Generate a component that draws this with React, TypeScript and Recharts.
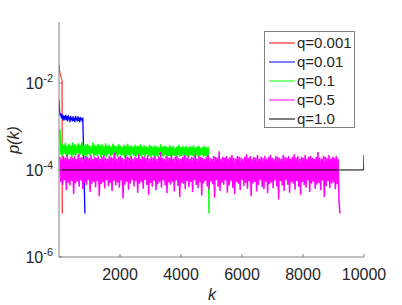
import { LineChart, Line, XAxis, YAxis, Legend, Label } from 'recharts';

const seriesNames = ['q=0.001', 'q=0.01', 'q=0.1', 'q=0.5', 'q=1.0'];
const COLORS = ['#ff0000', '#0000ff', '#00ff00', '#ff00ff', '#000000'];
// the noisy series are drawn a bit thicker so the dense band fills in
const WIDTHS = [1, 1.3, 1.5, 1.5, 1];

const xTicks = [2000, 4000, 6000, 8000, 10000];
const yTicks = [1e-6, 1e-4, 1e-2];

// q=0.001
const redK = [1, 10, 20, 30, 40, 50, 60, 70, 80, 90, 100, 106];
const redP = [0.026, 0.021, 0.019, 0.017, 0.0165, 0.015, 0.014, 0.0135, 0.0125, 0.012, 0.0115, 1e-5];

// q=0.01
const blueK = [1, 20, 40, 60, 80, 100, 120, 140, 160, 180, 200, 220, 240, 260, 280, 300, 320, 340, 360, 380,
    400, 420, 440, 460, 480, 500, 520, 540, 560, 580, 600, 620, 640, 660, 680, 700, 720, 740, 760, 780, 850];
const blueP = [4.1e-3, 2.1e-3, 1.8e-3, 2.0e-3, 1.55e-3, 1.9e-3, 1.45e-3, 1.8e-3, 1.35e-3, 1.75e-3,
    1.45e-3, 1.85e-3, 1.4e-3, 1.7e-3, 1.3e-3, 1.8e-3, 1.45e-3, 1.65e-3, 1.25e-3, 1.75e-3,
    1.4e-3, 1.6e-3, 1.3e-3, 1.7e-3, 1.35e-3, 1.55e-3, 1.25e-3, 1.75e-3, 1.4e-3, 1.6e-3,
    1.3e-3, 1.7e-3, 1.35e-3, 1.6e-3, 1.25e-3, 1.65e-3, 1.4e-3, 1.55e-3, 1.3e-3, 1.6e-3, 1e-5];

// q=0.1, sampled every 30 steps of k
const greenStep = 30;
const greenP = [
    8.5e-4, 2.3e-4, 4.1e-4, 2.1e-4, 3.8e-4, 2.4e-4, 4.2e-4, 2.0e-4, 3.6e-4, 2.2e-4, 4.0e-4, 2.3e-4, 3.7e-4, 1.9e-4, 4.3e-4, 2.2e-4, 3.9e-4, 2.1e-4, 3.6e-4, 2.4e-4,
    4.1e-4, 2.0e-4, 3.8e-4, 2.3e-4, 4.4e-4, 2.1e-4, 3.6e-4, 2.2e-4, 3.9e-4, 1.9e-4, 4.0e-4, 2.3e-4, 3.7e-4, 2.1e-4, 3.5e-4, 2.4e-4, 4.2e-4, 2.0e-4, 3.8e-4, 2.2e-4,
    3.6e-4, 2.1e-4, 4.0e-4, 2.3e-4, 3.7e-4, 1.9e-4, 3.9e-4, 2.2e-4, 3.5e-4, 2.1e-4, 4.1e-4, 2.0e-4, 3.6e-4, 2.3e-4, 3.8e-4, 2.1e-4, 3.4e-4, 2.2e-4, 4.0e-4, 1.9e-4,
    3.7e-4, 2.2e-4, 3.5e-4, 2.0e-4, 3.9e-4, 2.3e-4, 3.6e-4, 2.1e-4, 3.4e-4, 2.2e-4, 3.8e-4, 1.9e-4, 3.6e-4, 2.1e-4, 4.0e-4, 2.2e-4, 3.5e-4, 2.0e-4, 3.7e-4, 2.3e-4,
    3.4e-4, 2.1e-4, 3.8e-4, 2.0e-4, 3.5e-4, 2.2e-4, 3.6e-4, 1.9e-4, 3.9e-4, 2.1e-4, 3.4e-4, 2.2e-4, 3.7e-4, 2.0e-4, 3.5e-4, 2.3e-4, 3.3e-4, 2.1e-4, 3.8e-4, 2.0e-4,
    3.6e-4, 2.2e-4, 3.4e-4, 1.9e-4, 3.7e-4, 2.1e-4, 3.5e-4, 2.0e-4, 3.3e-4, 2.2e-4, 3.9e-4, 2.1e-4, 3.4e-4, 2.0e-4, 3.6e-4, 2.2e-4, 3.5e-4, 1.9e-4, 3.3e-4, 2.1e-4,
    3.7e-4, 2.0e-4, 3.4e-4, 2.2e-4, 3.6e-4, 2.1e-4, 3.2e-4, 1.9e-4, 3.5e-4, 2.2e-4, 3.8e-4, 2.0e-4, 3.3e-4, 2.1e-4, 3.5e-4, 2.2e-4, 3.4e-4, 1.9e-4, 3.6e-4, 2.1e-4,
    3.3e-4, 2.0e-4, 3.5e-4, 2.2e-4, 3.4e-4, 2.1e-4, 3.7e-4, 1.9e-4, 3.3e-4, 2.2e-4, 3.5e-4, 2.0e-4, 3.6e-4, 2.1e-4, 3.2e-4, 2.2e-4, 3.4e-4, 2.0e-4, 3.5e-4, 2.1e-4,
    3.3e-4, 2.0e-4, 3.4e-4, 1e-5
];

// q=0.5, sampled every 30 steps of k
const magentaStep = 30;
const magentaP = [
    20e-5, 5.2e-5, 18e-5, 4.6e-5, 21e-5, 5.8e-5, 19e-5, 3.4e-5, 22e-5, 5.1e-5, 18e-5, 4.4e-5, 20e-5, 5.6e-5, 19e-5, 2.8e-5, 21e-5, 4.9e-5, 18e-5, 5.4e-5,
    23e-5, 4.1e-5, 19e-5, 5.7e-5, 20e-5, 3.6e-5, 18e-5, 5.0e-5, 21e-5, 4.5e-5, 20e-5, 5.9e-5, 19e-5, 3.1e-5, 22e-5, 4.8e-5, 18e-5, 5.3e-5, 20e-5, 4.0e-5,
    19e-5, 5.5e-5, 21e-5, 2.5e-5, 18e-5, 4.7e-5, 20e-5, 5.2e-5, 22e-5, 3.8e-5, 19e-5, 5.8e-5, 18e-5, 4.3e-5, 21e-5, 5.0e-5, 20e-5, 3.3e-5, 19e-5, 5.6e-5,
    25e-5, 4.4e-5, 18e-5, 5.1e-5, 20e-5, 3.9e-5, 21e-5, 5.7e-5, 19e-5, 2.2e-5, 18e-5, 4.6e-5, 22e-5, 5.4e-5, 20e-5, 3.5e-5, 19e-5, 4.9e-5, 21e-5, 5.8e-5,
    18e-5, 4.2e-5, 20e-5, 5.5e-5, 19e-5, 3.0e-5, 23e-5, 4.8e-5, 18e-5, 5.3e-5, 21e-5, 3.7e-5, 20e-5, 5.9e-5, 19e-5, 4.5e-5, 22e-5, 2.7e-5, 18e-5, 5.0e-5,
    20e-5, 4.1e-5, 19e-5, 5.6e-5, 21e-5, 3.4e-5, 18e-5, 4.7e-5, 20e-5, 5.2e-5, 26e-5, 3.9e-5, 19e-5, 5.8e-5, 18e-5, 4.4e-5, 21e-5, 2.9e-5, 20e-5, 5.1e-5,
    19e-5, 4.6e-5, 22e-5, 5.4e-5, 18e-5, 3.2e-5, 20e-5, 5.7e-5, 21e-5, 4.3e-5, 19e-5, 2.4e-5, 18e-5, 5.0e-5, 20e-5, 4.8e-5, 22e-5, 3.6e-5, 19e-5, 5.5e-5,
    21e-5, 4.0e-5, 18e-5, 5.3e-5, 20e-5, 3.1e-5, 19e-5, 5.9e-5, 23e-5, 4.5e-5, 18e-5, 3.8e-5, 21e-5, 5.2e-5, 20e-5, 2.6e-5, 19e-5, 4.9e-5, 18e-5, 5.6e-5,
    20e-5, 4.2e-5, 22e-5, 3.5e-5, 19e-5, 5.4e-5, 18e-5, 4.7e-5, 21e-5, 2.3e-5, 20e-5, 5.8e-5, 19e-5, 4.1e-5, 27e-5, 3.3e-5, 18e-5, 5.1e-5, 20e-5, 4.6e-5,
    19e-5, 5.7e-5, 21e-5, 3.0e-5, 18e-5, 4.4e-5, 20e-5, 5.5e-5, 22e-5, 3.9e-5, 19e-5, 2.8e-5, 18e-5, 5.2e-5, 21e-5, 4.8e-5, 20e-5, 3.4e-5, 19e-5, 5.9e-5,
    18e-5, 4.3e-5, 20e-5, 5.0e-5, 23e-5, 3.7e-5, 19e-5, 5.6e-5, 21e-5, 2.5e-5, 18e-5, 4.9e-5, 20e-5, 5.3e-5, 19e-5, 3.2e-5, 22e-5, 4.5e-5, 18e-5, 5.8e-5,
    20e-5, 4.0e-5, 19e-5, 3.6e-5, 21e-5, 5.4e-5, 18e-5, 2.9e-5, 20e-5, 4.7e-5, 22e-5, 5.1e-5, 19e-5, 3.8e-5, 18e-5, 5.7e-5, 21e-5, 4.2e-5, 20e-5, 2.1e-5,
    19e-5, 5.5e-5, 18e-5, 4.4e-5, 22e-5, 3.3e-5, 20e-5, 5.9e-5, 19e-5, 4.6e-5, 21e-5, 3.0e-5, 18e-5, 5.2e-5, 20e-5, 4.8e-5, 23e-5, 3.5e-5, 19e-5, 5.6e-5,
    21e-5, 4.1e-5, 18e-5, 2.7e-5, 20e-5, 5.3e-5, 19e-5, 4.5e-5, 22e-5, 3.9e-5, 18e-5, 5.8e-5, 20e-5, 3.1e-5, 21e-5, 4.9e-5, 19e-5, 5.4e-5, 18e-5, 3.7e-5,
    20e-5, 4.6e-5, 26e-5, 5.0e-5, 19e-5, 3.4e-5, 18e-5, 5.7e-5, 21e-5, 2.4e-5, 20e-5, 4.3e-5, 19e-5, 5.5e-5, 22e-5, 3.8e-5, 18e-5, 4.9e-5, 20e-5, 5.2e-5,
    19e-5, 3.6e-5, 21e-5, 4.7e-5, 18e-5, 2.0e-5, 1e-5
];

// q=1.0
const blackK = [1, 9990, 10000];
const blackP = [1e-4, 1e-4, 2.2e-4];

const toRows = (ks: number[], ps: number[]) => ps.map((p, i) => ({ k: ks[i], p }));
const stepRows = (step: number, ps: number[]) => ps.map((p, i) => ({ k: step * (i + 1), p }));

const seriesData = [
    toRows(redK, redP),
    toRows(blueK, blueP),
    stepRows(greenStep, greenP),
    stepRows(magentaStep, magentaP),
    toRows(blackK, blackP)
];

const FONT = '"Liberation Sans", Arial, Helvetica, sans-serif';
const AXIS = '#808080';
const TEXT = '#262626';

const XTick = ({ x, y, payload }: any) => (
    <g>
        <line x1={x} x2={x} y1={y} y2={y - 3} stroke={AXIS} />
        <text x={x} y={y + 23} textAnchor="middle" fontSize={16} fill={TEXT} fontFamily={FONT}>
            {payload.value}
        </text>
    </g>
);

const YTick = ({ x, y, payload }: any) => {
    const exp = Math.round(Math.log10(payload.value));
    return (
        <g>
            <line x1={x} x2={x + 3} y1={y} y2={y} stroke={AXIS} />
            <text x={x - 6} y={y + 6} textAnchor="end" fontSize={16} fill={TEXT} fontFamily={FONT}>
                <tspan>10</tspan>
                <tspan dy={-7} fontSize={11}>{exp}</tspan>
            </text>
        </g>
    );
};

const renderLegend = () => (
    <div style={{
        width: 91, height: 97, boxSizing: 'border-box', border: `1px solid ${AXIS}`,
        background: '#fff', paddingTop: 1, fontFamily: FONT
    }}>
        {seriesNames.map((name, i) => (
            <div key={name} style={{ display: 'flex', alignItems: 'center', height: 19 }}>
                <svg width={32} height={19} style={{ display: 'block' }}>
                    <line x1={4} x2={30} y1={10} y2={10} stroke={COLORS[i]} strokeWidth={1} />
                </svg>
                <span style={{ fontSize: 15, color: TEXT, lineHeight: '19px' }}>{name}</span>
            </div>
        ))}
    </div>
);

export default function App() {
    return (
        <div style={{ position: 'absolute', left: 0, top: 0, background: '#fff' }}>
            <LineChart width={402} height={305} margin={{ top: 22, right: 38, bottom: 0, left: 0 }}>
                <XAxis
                    dataKey="k"
                    type="number"
                    domain={[0, 10000]}
                    ticks={xTicks}
                    allowDataOverflow
                    height={48}
                    tickSize={0}
                    tickMargin={0}
                    tickLine={false}
                    tick={<XTick />}
                    axisLine={{ stroke: AXIS }}
                >
                    <Label content={() => (
                        <text x={212} y={300} textAnchor="middle" fontSize={16} fontStyle="italic"
                            fill={TEXT} fontFamily={FONT}>k</text>
                    )} />
                </XAxis>
                <YAxis
                    type="number"
                    scale="log"
                    domain={[1e-6, 0.251]}
                    ticks={yTicks}
                    allowDataOverflow
                    width={59}
                    tickSize={0}
                    tickMargin={0}
                    tickLine={false}
                    tick={<YTick />}
                    axisLine={{ stroke: AXIS }}
                >
                    <Label content={() => (
                        <text x={0} y={0} transform="translate(19,140) rotate(-90)" textAnchor="middle"
                            fontSize={16} fontStyle="italic" fill={TEXT} fontFamily={FONT}>p(k)</text>
                    )} />
                </YAxis>
                {seriesData.map((rows, i) => (
                    <Line
                        key={seriesNames[i]}
                        data={rows}
                        dataKey="p"
                        name={seriesNames[i]}
                        type="linear"
                        stroke={COLORS[i]}
                        strokeWidth={WIDTHS[i]}
                        dot={false}
                        activeDot={false}
                        isAnimationActive={false}
                    />
                ))}
                <Legend
                    layout="vertical"
                    align="center"
                    verticalAlign="middle"
                    content={renderLegend}
                    wrapperStyle={{ position: 'absolute', left: 264, top: 31, width: 91, height: 97 }}
                />
            </LineChart>
        </div>
    );
}
